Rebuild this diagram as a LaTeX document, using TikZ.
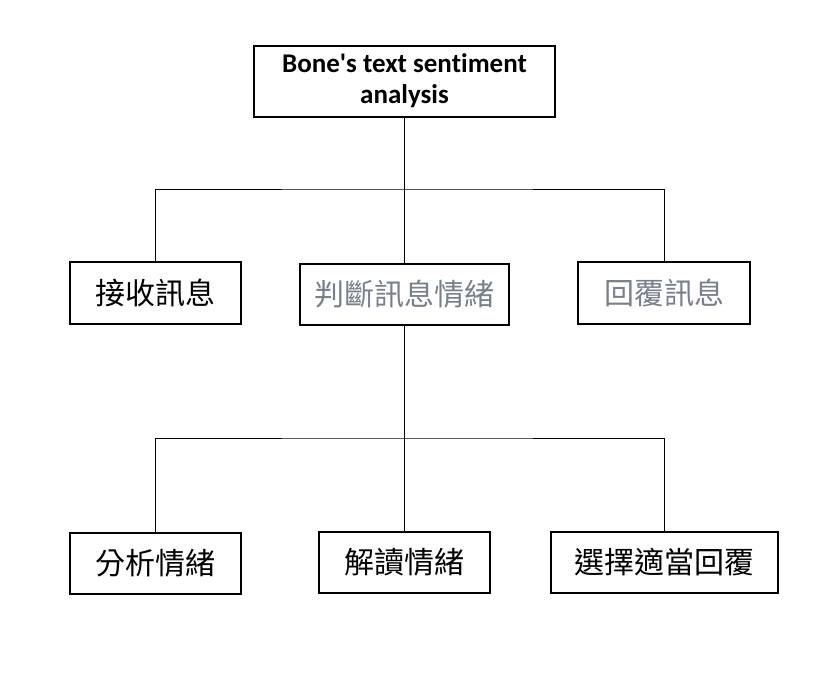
\documentclass[tikz,border=0pt]{standalone}
\usepackage{fontspec}
\setmainfont{Carlito}
\newfontfamily\topfont{Carlito}[Ligatures={TeXOff,NoCommon}]
\newfontfamily\cjk{Noto Sans CJK TC}
\definecolor{grayt}{RGB}{120,128,138}
\begin{document}
\begin{tikzpicture}[x=1pt,y=-1pt,
  box/.style={draw=black,line width=2pt,inner sep=0pt,align=center},
  cjkbox/.style={box,font=\cjk\fontsize{30}{34}\selectfont},
  link/.style={draw=black,line width=1pt}]
\useasboundingbox[fill=white] (0,0) rectangle (831,694);
\node[box,minimum width=301pt,minimum height=71pt,font=\topfont\bfseries\fontsize{27}{31}\selectfont] (top) at (404.5,81) {Bone's text sentiment\\analysis};
\node[cjkbox,minimum width=171pt,minimum height=62pt] (a) at (155.5,293) {接收訊息};
\node[cjkbox,minimum width=209pt,minimum height=61pt,text=grayt] (b) at (404.5,294.5) {判斷訊息情緒};
\node[cjkbox,minimum width=172pt,minimum height=62pt,text=grayt] (c) at (664,293) {回覆訊息};
\node[cjkbox,minimum width=171pt,minimum height=61pt] (d) at (155.5,563.5) {分析情緒};
\node[cjkbox,minimum width=171pt,minimum height=61pt] (e) at (404.5,562.5) {解讀情緒};
\node[cjkbox,minimum width=227pt,minimum height=61pt] (f) at (664.5,562.5) {選擇適當回覆};
\coordinate (j1) at (404.5,189);
\coordinate (j2) at (404.5,438);
\draw[link] (top.south) -- (j1);
\draw[link] (a.north) |- (j1) -| (c.north);
\draw[link] (j1) -- (b.north);
\draw[link] (b.south) -- (j2);
\draw[link] (d.north) |- (j2) -| (f.north);
\draw[link] (j2) -- (e.north);
\end{tikzpicture}
\end{document}
